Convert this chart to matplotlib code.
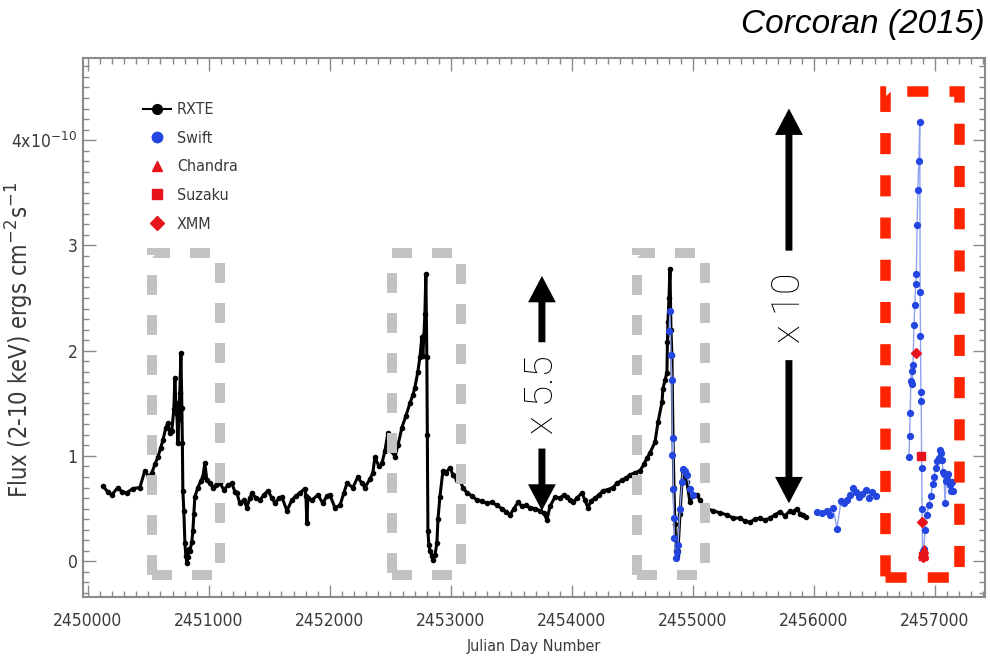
import matplotlib
matplotlib.use("Agg")
import matplotlib.pyplot as plt
from matplotlib.lines import Line2D
from matplotlib.patches import Rectangle
from matplotlib.ticker import MultipleLocator
from matplotlib import font_manager as fm

# ---------------- data ----------------
rxte_jd = [2450124, 2450165, 2450198, 2450248, 2450281, 2450322, 2450372, 2450430, 2450471, 2450504,
           2450529, 2450554, 2450579, 2450603, 2450620, 2450645, 2450661, 2450678, 2450694, 2450711,
           2450719, 2450727, 2450736, 2450744, 2450752, 2450760, 2450769, 2450777, 2450781, 2450785,
           2450793, 2450802, 2450810, 2450818, 2450826, 2450835, 2450843, 2450859, 2450868, 2450876,
           2450884, 2450909, 2450934, 2450950, 2450967, 2450983, 2451008, 2451033, 2451058, 2451091,
           2451124, 2451157, 2451190, 2451215, 2451231, 2451256, 2451289, 2451314, 2451339, 2451355,
           2451388, 2451421, 2451455, 2451488, 2451521, 2451546, 2451579, 2451603, 2451645, 2451686,
           2451719, 2451752, 2451793, 2451802, 2451810, 2451818, 2451851, 2451901, 2451942, 2451975,
           2452000, 2452041, 2452083, 2452116, 2452141, 2452190, 2452231, 2452264, 2452289, 2452331,
           2452355, 2452372, 2452405, 2452430, 2452455, 2452479, 2452512, 2452537, 2452562, 2452595,
           2452628, 2452661, 2452686, 2452702, 2452727, 2452744, 2452760, 2452768, 2452777, 2452785,
           2452793, 2452801, 2452805, 2452810, 2452818, 2452826, 2452843, 2452851, 2452868, 2452884,
           2452893, 2452909, 2452934, 2452959, 2452992, 2453017, 2453050, 2453074, 2453099, 2453132,
           2453174, 2453215, 2453256, 2453298, 2453339, 2453380, 2453421, 2453455, 2453488, 2453521,
           2453554, 2453587, 2453620, 2453653, 2453694, 2453736, 2453769, 2453793, 2453818, 2453860,
           2453901, 2453934, 2453959, 2453983, 2454008, 2454041, 2454083, 2454107, 2454132, 2454157,
           2454190, 2454223, 2454256, 2454298, 2454339, 2454372, 2454413, 2454446, 2454479, 2454521,
           2454562, 2454595, 2454620, 2454645, 2454686, 2454711, 2454744, 2454752, 2454769, 2454785,
           2454789, 2454793, 2454802, 2454810, 2454818, 2454826, 2454835, 2454843, 2454851, 2454860,
           2454868, 2454876, 2454893, 2454909, 2454917, 2454950, 2454975, 2455000, 2455033, 2455058,
           2455083, 2455116, 2455165, 2455223, 2455281, 2455331, 2455388, 2455430, 2455471, 2455512,
           2455554, 2455595, 2455636, 2455678, 2455719, 2455760, 2455802, 2455826, 2455860, 2455884,
           2455909, 2455934]
rxte_flux = [0.71, 0.66, 0.63, 0.70, 0.66, 0.65, 0.69, 0.70, 0.86, 0.80,
             0.84, 0.92, 0.99, 1.08, 1.15, 1.27, 1.31, 1.22, 1.24, 1.45,
             1.74, 1.50, 1.40, 1.12, 1.35, 1.60, 1.98, 1.46, 1.12, 0.67,
             0.48, 0.17, 0.05, -0.02, 0.04, 0.12, 0.10, 0.18, 0.29, 0.45,
             0.61, 0.70, 0.76, 0.80, 0.93, 0.77, 0.74, 0.70, 0.72, 0.74,
             0.68, 0.72, 0.74, 0.66, 0.65, 0.55, 0.58, 0.51, 0.60, 0.65,
             0.60, 0.58, 0.63, 0.67, 0.60, 0.55, 0.60, 0.61, 0.48, 0.58,
             0.62, 0.65, 0.69, 0.62, 0.36, 0.60, 0.58, 0.63, 0.55, 0.62,
             0.63, 0.51, 0.53, 0.65, 0.74, 0.70, 0.80, 0.74, 0.70, 0.78,
             0.84, 0.99, 0.90, 0.93, 1.05, 1.22, 1.05, 0.99, 1.10, 1.27,
             1.38, 1.50, 1.58, 1.65, 1.80, 1.94, 2.13, 1.95, 2.15, 2.35,
             2.73, 1.94, 1.20, 0.29, 0.15, 0.10, 0.05, 0.01, 0.06, 0.17,
             0.40, 0.61, 0.86, 0.84, 0.89, 0.82, 0.77, 0.77, 0.70, 0.65,
             0.62, 0.58, 0.57, 0.55, 0.56, 0.53, 0.50, 0.47, 0.44, 0.50,
             0.56, 0.52, 0.53, 0.51, 0.50, 0.48, 0.46, 0.39, 0.52, 0.61,
             0.60, 0.63, 0.61, 0.58, 0.56, 0.60, 0.65, 0.58, 0.51, 0.57,
             0.60, 0.63, 0.67, 0.68, 0.70, 0.74, 0.77, 0.79, 0.82, 0.84,
             0.86, 0.92, 0.98, 1.03, 1.13, 1.32, 1.51, 1.64, 1.72, 1.79,
             2.08, 2.27, 2.50, 2.78, 2.20, 1.96, 1.17, 0.70, 0.35, 0.10,
             0.05, 0.10, 0.45, 0.75, 0.86, 0.75, 0.56, 0.63, 0.63, 0.58,
             0.52, 0.50, 0.48, 0.46, 0.44, 0.41, 0.41, 0.38, 0.37, 0.40,
             0.41, 0.39, 0.41, 0.44, 0.47, 0.43, 0.48, 0.47, 0.50, 0.45,
             0.44, 0.42]

swift_jd = [2454802, 2454810, 2454818, 2454826, 2454830, 2454835, 2454838, 2454842, 2454846, 2454860,
            2454868, 2454876, 2454893, 2454909, 2454917, 2454934, 2454950, 2454975, 2455000,
            2456025, 2456066, 2456107, 2456132, 2456157, 2456190, 2456223, 2456248, 2456273, 2456298,
            2456322, 2456347, 2456372, 2456397, 2456430, 2456455, 2456479, 2456512,
            2456785, 2456790, 2456795, 2456800, 2456806, 2456812, 2456818, 2456826, 2456833, 2456840,
            2456846, 2456852, 2456858, 2456866, 2456874, 2456877, 2456880, 2456883, 2456886, 2456890,
            2456893, 2456897, 2456902, 2456908, 2456917, 2456930, 2456950, 2456965, 2456980, 2456992,
            2457005, 2457017, 2457030, 2457042, 2457050, 2457058, 2457066, 2457074, 2457083, 2457091,
            2457100, 2457110, 2457120, 2457132, 2457140, 2457149]
swift_flux = [2.19, 2.38, 1.96, 1.72, 1.01, 1.17, 0.69, 0.41, 0.22, 0.03,
              0.09, 0.15, 0.50, 0.75, 0.88, 0.86, 0.82, 0.69, 0.63,
              0.47, 0.46, 0.48, 0.44, 0.51, 0.31, 0.57, 0.55, 0.58, 0.63,
              0.70, 0.66, 0.61, 0.64, 0.68, 0.60, 0.66, 0.62,
              0.99, 1.19, 1.41, 1.71, 1.81, 1.68, 1.86, 2.24, 2.43, 2.63,
              2.73, 3.19, 3.53, 3.80, 4.17, 2.56, 2.14, 1.61, 1.52, 0.89,
              0.50, 0.10, 0.04, 0.12, 0.30, 0.44, 0.53, 0.62, 0.73, 0.80,
              0.89, 0.95, 0.98, 1.06, 1.03, 0.96, 0.85, 0.83, 0.55, 0.76,
              0.78, 0.83, 0.72, 0.67, 0.75, 0.67]

chandra_jd = [2456905, 2456912]
chandra_flux = [0.12, 0.06]
suzaku_jd = [2456884, 2456901]
suzaku_flux = [1.00, 0.05]
xmm_jd = [2456843, 2456896, 2456903]
xmm_flux = [1.98, 0.37, 0.04]

xtick_values = [2450000, 2451000, 2452000, 2453000, 2454000, 2455000, 2456000, 2457000]
xtick_labels = ['2450000', '2451000', '2452000', '2453000', '2454000', '2455000', '2456000', '2457000']
ytick_values = [0, 1, 2, 3, 4]
ytick_labels = ['0', '1', '2', '3', '4x10$^{-10}$']

# periastron boxes (JD start, JD end) and flux range
gray_boxes = [(2450529, 2451091), (2452512, 2453083), (2454537, 2455099)]
gray_box_flux = (-0.13, 2.93)
red_box = (2456587, 2457198)
red_box_flux = (-0.15, 4.47)

# amplification arrows: (JD, up-tip, up-tail, down-tail, down-tip, text y, label)
arrows = [(2453752, 2.71, 2.08, 1.07, 0.48, 1.58, 'x 5.5'),
          (2455793, 4.30, 2.95, 1.91, 0.55, 2.41, 'x 10')]

# ---------------- fonts ----------------
def has_font(name):
    try:
        fm.findfont(fm.FontProperties(family=name), fallback_to_default=False)
        return True
    except Exception:
        return False

thin_font = 'Roboto' if has_font('Roboto') else 'Liberation Sans'
tick_fp = dict(family='DejaVu Sans', stretch='condensed')

GRAY_TXT = '#3a3a3a'
BLUE = '#2346e0'
RED = '#e8141c'

fig = plt.figure(figsize=(9.9, 6.65), dpi=100)
ax = fig.add_axes([83 / 990, 1 - 597 / 665, 902 / 990, 539 / 665])

ax.set_xlim(2449960, 2457413)
ax.set_ylim(-0.34, 4.78)

# RXTE
ax.plot(rxte_jd, rxte_flux, '-', color='black', lw=2.2, marker='o', ms=3.0, zorder=3)
# Swift (three segments, connected by thin line within each)
segs = [(0, 19), (19, 37), (37, len(swift_jd))]
for a, b in segs:
    ax.plot(swift_jd[a:b], swift_flux[a:b], '-', color='#8fa2f0', lw=1.0, zorder=4)
    ax.plot(swift_jd[a:b], swift_flux[a:b], 'o', color=BLUE, ms=4.2, mec=BLUE, zorder=5)
ax.plot(chandra_jd, chandra_flux, '^', color=RED, ms=6, zorder=6)
ax.plot(suzaku_jd, suzaku_flux, 's', color=RED, ms=5.5, zorder=6)
ax.plot(xmm_jd, xmm_flux, 'D', color=RED, ms=5.5, zorder=6)

# dashed boxes
for x0, x1 in gray_boxes:
    ax.add_patch(Rectangle((x0, gray_box_flux[0]), x1 - x0, gray_box_flux[1] - gray_box_flux[0],
                           fill=False, edgecolor='#c2c2c2', lw=7.2, linestyle=(0, (2, 2)),
                           capstyle='butt', joinstyle='miter', zorder=7))
ax.add_patch(Rectangle((red_box[0], red_box_flux[0]), red_box[1] - red_box[0],
                       red_box_flux[1] - red_box_flux[0],
                       fill=False, edgecolor='#ff2400', lw=7.6, linestyle=(0, (2, 2)),
                       capstyle='butt', joinstyle='miter', zorder=7))

# arrows + factors
astyle = 'simple,head_length=0.95,head_width=1.0,tail_width=0.25'
for xj, up_tip, up_tail, dn_tail, dn_tip, ty, lab in arrows:
    for tip, tail in ((up_tip, up_tail), (dn_tip, dn_tail)):
        ax.annotate('', xy=(xj, tip), xytext=(xj, tail),
                    arrowprops=dict(arrowstyle=astyle, mutation_scale=20, color='black',
                                    lw=0, shrinkA=0, shrinkB=0), zorder=8)
    ax.text(xj, ty, lab, rotation=90, ha='center', va='center', fontsize=28,
            family=thin_font, fontweight='light', color='black', zorder=8)

# ticks
ax.set_xticks(xtick_values)
ax.set_xticklabels(xtick_labels)
ax.set_yticks(ytick_values)
ax.set_yticklabels(ytick_labels)
ax.xaxis.set_minor_locator(MultipleLocator(100))
ax.yaxis.set_minor_locator(MultipleLocator(0.1))
ax.tick_params(which='both', direction='in', top=True, right=True, color='#8a8a8a', width=1.0)
ax.tick_params(which='major', length=9)
ax.tick_params(which='minor', length=4.5)
ax.tick_params(axis='x', which='major', pad=11)
ax.tick_params(axis='y', which='major', pad=4)
for lbl in ax.get_xticklabels() + ax.get_yticklabels():
    lbl.set_family(tick_fp['family'])
    lbl.set_stretch(tick_fp['stretch'])
    lbl.set_fontsize(12.5)
    lbl.set_color(GRAY_TXT)
for sp in ax.spines.values():
    sp.set_color('#8a8a8a')
    sp.set_linewidth(1.5)

ax.set_xlabel('Julian Day Number', fontsize=11.5, color=GRAY_TXT, labelpad=6, **tick_fp)
fig.text(20 / 990, 1 - 340 / 665, 'Flux (2-10 keV) ergs cm$^{-2}$s$^{-1}$', rotation=90,
         ha='center', va='center', fontsize=17, color=GRAY_TXT, **tick_fp)

# legend
handles = [Line2D([], [], color='black', lw=1.5, marker='o', ms=7),
           Line2D([], [], ls='none', marker='o', color=BLUE, ms=7.5),
           Line2D([], [], ls='none', marker='^', color=RED, ms=7.5),
           Line2D([], [], ls='none', marker='s', color=RED, ms=7),
           Line2D([], [], ls='none', marker='D', color=RED, ms=7)]
labels = ['RXTE', 'Swift', 'Chandra', 'Suzaku', 'XMM']
leg = ax.legend(handles, labels, loc='upper left', bbox_to_anchor=(0.066, 0.918),
                frameon=False, borderaxespad=0, borderpad=0, handlelength=1.8,
                handletextpad=0.35, labelspacing=0.85,
                prop=fm.FontProperties(size=11.5, **tick_fp))
for t in leg.get_texts():
    t.set_color(GRAY_TXT)

fig.text(985 / 990, 1 - 25 / 665, 'Corcoran (2015)', ha='right', va='center',
         fontsize=24, style='italic', family='Liberation Sans', color='black')

fig.savefig('out.png', dpi=100)
